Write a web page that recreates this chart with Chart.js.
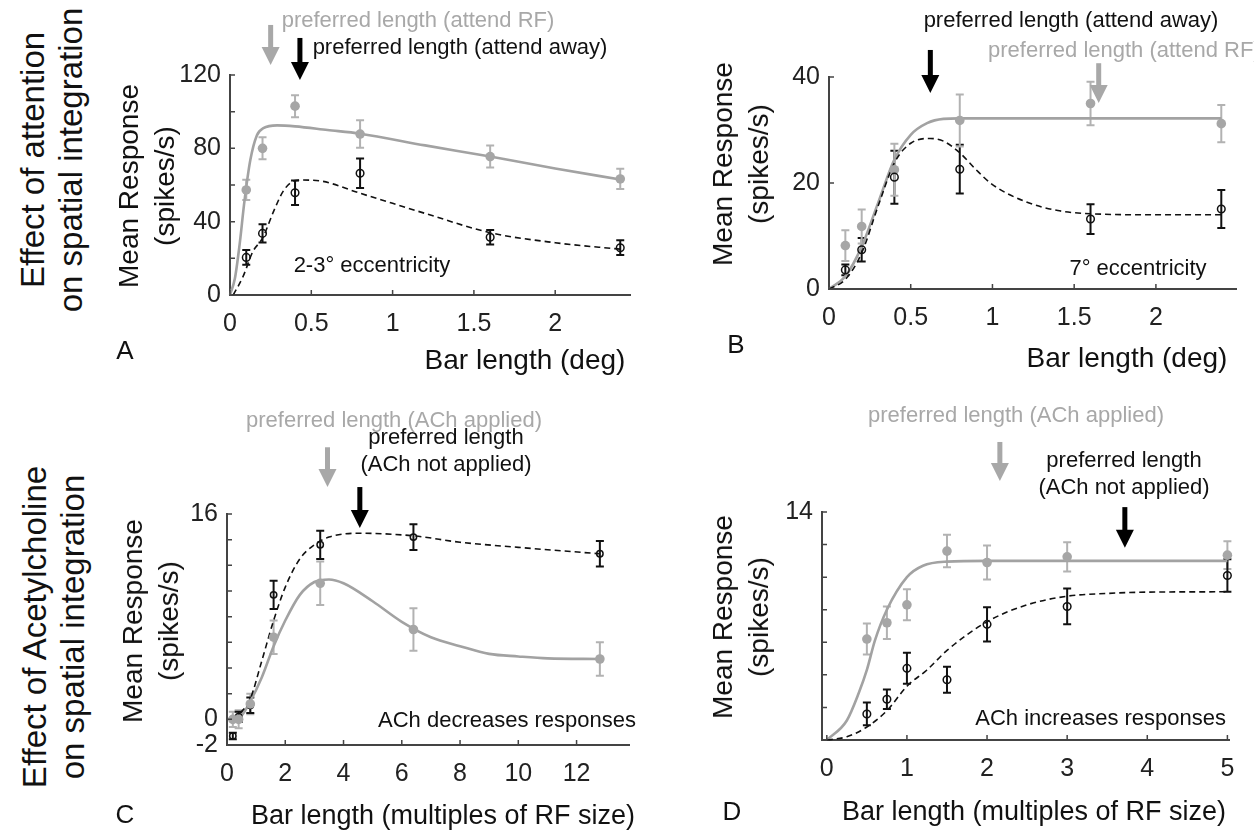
<!DOCTYPE html>
<html>
<head>
<meta charset="utf-8">
<script src="https://cdn.jsdelivr.net/npm/chart.js@4.4.1/dist/chart.umd.min.js"></script>
<style>
  body { margin: 0; background: #fff; }
  #fig { position: relative; width: 1254px; height: 834px; overflow: hidden; background: #fff;
         font-family: "Liberation Sans", Arial, Helvetica, sans-serif; color: #111; }
  #fig canvas { position: absolute; }
  .t { position: absolute; white-space: nowrap; transform: translate(-50%, -50%); text-align: center; z-index: 2; }
  .l { position: absolute; white-space: nowrap; transform: translateY(-50%); z-index: 2; }
  .r { position: absolute; white-space: nowrap; transform: translateY(-50%); text-align: right; z-index: 2; }
  .rot { position: absolute; white-space: nowrap; text-align: center; z-index: 2;
         transform: translate(-50%, -50%) rotate(-90deg); }
  .grey { color: #a8a8a8; }
  .ann { font-size: 22px; }
  .ttl { font-size: 33px; line-height: 38px; }
  .ax { font-size: 28px; line-height: 36px; }
  .let { font-size: 26px; }
</style>
</head>
<body>
<div id="fig">
  <canvas id="cA"></canvas>
  <canvas id="cB"></canvas>
  <canvas id="cC"></canvas>
  <canvas id="cD"></canvas>

  <div class="rot ttl" style="left:52px;top:160px">Effect of attention<br>on spatial integration</div>
  <div class="rot ttl" style="left:54px;top:627px">Effect of Acetylcholine<br>on spatial integration</div>

  <div class="rot ax" style="left:147px;top:186px">Mean Response<br>(spikes/s)</div>
  <div class="rot ax" style="left:741px;top:164px">Mean Response<br>(spikes/s)</div>
  <div class="rot ax" style="left:151px;top:621px">Mean Response<br>(spikes/s)</div>
  <div class="rot ax" style="left:741px;top:617px">Mean Response<br>(spikes/s)</div>

  <div class="t ax" style="left:525px;top:360px">Bar length (deg)</div>
  <div class="t ax" style="left:1127px;top:358px">Bar length (deg)</div>
  <div class="t ax" style="left:443px;top:815px;font-size:27px">Bar length (multiples of RF size)</div>
  <div class="t ax" style="left:1034px;top:811px;font-size:27px">Bar length (multiples of RF size)</div>

  <div class="t let" style="left:125px;top:350px">A</div>
  <div class="t let" style="left:736px;top:344px">B</div>
  <div class="t let" style="left:125px;top:814px">C</div>
  <div class="t let" style="left:732px;top:811px">D</div>

  <div class="t ann grey" style="left:418px;top:20px">preferred length (attend RF)</div>
  <div class="t ann" style="left:460px;top:47px">preferred length (attend away)</div>
  <div class="t ann" style="left:372px;top:265px">2-3° eccentricity</div>

  <div class="t ann" style="left:1071px;top:20px">preferred length (attend away)</div>
  <div class="l ann grey" style="left:988px;top:50px">preferred length (attend RF)</div>
  <div class="t ann" style="left:1138px;top:268px">7° eccentricity</div>

  <div class="t ann grey" style="left:394px;top:420px">preferred length (ACh applied)</div>
  <div class="t ann" style="left:446px;top:450px;line-height:27px">preferred length<br>(ACh not applied)</div>
  <div class="l ann" style="left:378px;top:720px">ACh decreases responses</div>

  <div class="t ann grey" style="left:1016px;top:415px">preferred length (ACh applied)</div>
  <div class="t ann" style="left:1124px;top:473px;line-height:27px">preferred length<br>(ACh not applied)</div>
  <div class="r ann" style="right:28px;top:718px">ACh increases responses</div>
</div>

<script>
// ---- Panel A: attention, 2-3 deg eccentricity ----
const aLen = [0.1, 0.2, 0.4, 0.8, 1.6, 2.4];
const aAttendRF = [57.3, 80, 103, 87.8, 75.5, 63.3];
const aAttendRFErr = [5.5, 6, 6, 7.5, 6, 5.5];
const aAttendAway = [20.5, 33.6, 55.8, 66.4, 31.5, 25.8];
const aAttendAwayErr = [4, 5, 6.7, 8, 4, 4];
const aFitRFLen = [0, 0.03, 0.057, 0.09, 0.125, 0.165, 0.205, 0.29, 0.4, 0.6, 0.8, 1.2, 1.6, 2.0, 2.4];
const aFitRF = [0, 9, 26, 52, 73.6, 87, 91, 92.5, 92, 90, 88, 81.6, 75.5, 69, 63];
const aFitAwayLen = [0.02, 0.08, 0.14, 0.2, 0.27, 0.33, 0.4, 0.45, 0.57, 0.8, 1.0, 1.2, 1.6, 2.0, 2.4];
const aFitAway = [0, 10, 23.6, 31, 46, 57, 62.4, 62.7, 62, 55.5, 50, 44.5, 34, 28.5, 25];
const aArrowLen = [0.25, 0.43];      // attend RF (grey), attend away (black)
const aArrowTop = [147.3, 140.2];
const aArrowTip = [125.5, 117.3];
const aYLabels = [0, 40, 80, 120];

// ---- Panel B: attention, 7 deg eccentricity ----
const bLen = [0.1, 0.2, 0.4, 0.8, 1.6, 2.4];
const bAttendRF = [8.2, 11.8, 22.5, 31.8, 35, 31.2];
const bAttendRFErr = [2.9, 3.2, 4.9, 4.9, 4.1, 3.5];
const bAttendAway = [3.6, 7.4, 21.1, 22.6, 13.2, 15.1];
const bAttendAwayErr = [1, 2.2, 5, 4.6, 2.8, 3.6];
const bFitRFLen = [0, 0.1, 0.2, 0.3, 0.4, 0.5, 0.6, 0.7, 0.8, 1.2, 1.6, 2.0, 2.4];
const bFitRF = [0, 2.4, 8, 16.2, 24.4, 29.1, 31.3, 32.1, 32.2, 32.2, 32.2, 32.2, 32.2];
const bFitAwayLen = [0, 0.1, 0.2, 0.3, 0.4, 0.5, 0.62, 0.7, 0.8, 0.9, 1.0, 1.2, 1.4, 1.6, 2.0, 2.4];
const bFitAway = [0, 1.8, 6.8, 15.6, 23.8, 27.5, 28.4, 27.9, 25.7, 22.5, 19.7, 16.5, 14.8, 14.2, 14, 14];
const bArrowLen = [1.65, 0.62];      // attend RF (grey), attend away (black)
const bArrowTop = [42.6, 45.1];
const bArrowTip = [35.1, 37];
const bYLabels = [0, 20, 40];

// ---- Panel C: ACh decreases responses ----
const cLen = [0.2, 0.4, 0.8, 1.6, 3.2, 6.4, 12.8];
const cApplied = [0, 0, 1.2, 6.4, 10.6, 7.0, 4.7];
const cAppliedErr = [0.6, 0.7, 0.8, 1.3, 1.7, 1.65, 1.3];
const cNotApplied = [-1.3, 0.2, 1.1, 9.7, 13.6, 14.2, 12.9];
const cNotAppliedErr = [0.25, 0.4, 0.6, 1.1, 1.1, 1.0, 1.0];
const cFitAppliedLen = [0.2, 0.5, 0.8, 1.2, 1.6, 2.0, 2.5, 3.0, 3.5, 4.0, 5, 6, 7, 8, 9, 10, 11, 12.8];
const cFitApplied = [0, 0.3, 1.4, 3.3, 5.7, 7.7, 9.7, 10.7, 10.9, 10.6, 9.2, 7.6, 6.4, 5.7, 5.1, 4.9, 4.75, 4.7];
const cFitNotLen = [0.2, 0.5, 0.8, 1.2, 1.6, 2.0, 2.5, 3.0, 3.5, 4.5, 6.4, 8, 10, 12.8];
const cFitNot = [0, 0.6, 1.6, 4.6, 7.7, 10.3, 12.5, 13.6, 14.2, 14.5, 14.3, 13.8, 13.4, 12.9];
const cArrowLen = [3.45, 4.56];      // ACh applied (grey), not applied (black)
const cArrowTop = [21.2, 18.1];
const cArrowTip = [18.1, 14.9];
const cYLabels = [-2, 0, 16];

// ---- Panel D: ACh increases responses ----
const dLen = [0.5, 0.75, 1, 1.5, 2, 3, 5];
const dApplied = [6.2, 7.2, 8.3, 11.6, 10.9, 11.25, 11.35];
const dAppliedErr = [0.95, 1.0, 0.95, 1.0, 1.05, 0.9, 0.85];
const dNotApplied = [1.6, 2.5, 4.4, 3.7, 7.1, 8.2, 10.1];
const dNotAppliedErr = [0.7, 0.6, 0.95, 0.8, 1.05, 1.1, 1.0];
const dFitAppliedLen = [0, 0.25, 0.4, 0.5, 0.6, 0.75, 1.0, 1.2, 1.5, 2, 3, 5];
const dFitApplied = [0, 1.2, 2.9, 4.3, 6.1, 8.0, 10.0, 10.7, 10.95, 11, 11, 11];
const dFitNotLen = [0, 0.25, 0.5, 0.75, 1.0, 1.25, 1.5, 2.0, 2.5, 3.0, 3.5, 4, 5];
const dFitNot = [0, 0.2, 0.8, 1.8, 3.3, 4.3, 5.5, 7.26, 8.3, 8.83, 9.0, 9.08, 9.1];
const dArrowLen = [2.16, 3.72];      // ACh applied (grey), not applied (black)
const dArrowTop = [18.3, 14.3];
const dArrowTip = [15.9, 11.8];
const dYLabels = [14];

var FONT = '"Liberation Sans", Arial, Helvetica, sans-serif';
var GREY = "#a6a6a6";
var GREY_LINE = "#a2a2a2";
var BLACK = "#111111";
var AXIS = "#444444";
var arrowsById = {};

function pts(xs, ys) {
  return xs.map(function(x, i) { return { x: x, y: ys[i] }; });
}

function greyPoints(xs, ys, errs) {
  return { data: pts(xs, ys), errs: errs, errColor: "#b2b2b2", showLine: false,
    pointRadius: 4.8, pointBackgroundColor: GREY, pointBorderWidth: 0, clip: 12 };
}
function blackPoints(xs, ys, errs, r) {
  return { data: pts(xs, ys), errs: errs, errColor: BLACK, showLine: false,
    pointRadius: r || 3.8, pointBackgroundColor: "rgba(0,0,0,0)", pointBorderColor: BLACK,
    pointBorderWidth: 1.5, clip: 12 };
}
function greyFit(xs, ys) {
  return { data: pts(xs, ys), showLine: true, borderColor: GREY_LINE, borderWidth: 2.6,
    pointRadius: 0, cubicInterpolationMode: "monotone", clip: 6 };
}
function blackFit(xs, ys) {
  return { data: pts(xs, ys), showLine: true, borderColor: BLACK, borderWidth: 1.6,
    borderDash: [6, 4], pointRadius: 0, cubicInterpolationMode: "monotone", clip: 6 };
}

var errorBars = {
  id: "errorBars",
  beforeDatasetsDraw: function(chart) {
    var ctx = chart.ctx, ys = chart.scales.y;
    chart.data.datasets.forEach(function(ds, i) {
      if (!ds.errs) return;
      var meta = chart.getDatasetMeta(i);
      ctx.save();
      ctx.strokeStyle = ds.errColor;
      ctx.lineWidth = 2;
      ctx.beginPath();
      meta.data.forEach(function(pt, j) {
        var v = ds.data[j].y, e = ds.errs[j];
        var y1 = ys.getPixelForValue(v - e), y2 = ys.getPixelForValue(v + e);
        ctx.moveTo(pt.x, y1); ctx.lineTo(pt.x, y2);
        ctx.moveTo(pt.x - 4, y1); ctx.lineTo(pt.x + 4, y1);
        ctx.moveTo(pt.x - 4, y2); ctx.lineTo(pt.x + 4, y2);
      });
      ctx.stroke();
      ctx.restore();
    });
  }
};

var inwardTicks = {
  id: "inwardTicks",
  afterDraw: function(chart) {
    var ctx = chart.ctx, a = chart.chartArea, x = chart.scales.x, y = chart.scales.y;
    ctx.save();
    ctx.strokeStyle = AXIS;
    ctx.lineWidth = 1.5;
    ctx.beginPath();
    x.ticks.forEach(function(t) {
      var px = x.getPixelForValue(t.value);
      ctx.moveTo(px, a.bottom); ctx.lineTo(px, a.bottom - 5);
    });
    y.ticks.forEach(function(t) {
      var py = y.getPixelForValue(t.value);
      ctx.moveTo(a.left, py); ctx.lineTo(a.left + 5, py);
    });
    ctx.stroke();
    ctx.restore();
  }
};

var arrowMarks = {
  id: "arrowMarks",
  afterDraw: function(chart) {
    var list = arrowsById[chart.canvas.id] || [];
    var ctx = chart.ctx, xs = chart.scales.x, ys = chart.scales.y;
    list.forEach(function(ar) {
      var px = xs.getPixelForValue(ar.x);
      var top = ys.getPixelForValue(ar.top), tip = ys.getPixelForValue(ar.tip);
      var headL = 18, headW = 18, shaftW = 5;
      ctx.save();
      ctx.fillStyle = ar.color;
      ctx.fillRect(px - shaftW / 2, top, shaftW, tip - headL - top + 1);
      ctx.beginPath();
      ctx.moveTo(px - headW / 2, tip - headL);
      ctx.lineTo(px + headW / 2, tip - headL);
      ctx.lineTo(px, tip);
      ctx.closePath();
      ctx.fill();
      ctx.restore();
    });
  }
};

function arrows(lens, tops, tips) {
  var colors = ["#a8a8a8", "#000000"];
  return lens.map(function(x, i) { return { x: x, top: tops[i], tip: tips[i], color: colors[i] }; });
}

function makePanel(id, box, area, xOpt, yOpt, datasets, arrowList) {
  var cv = document.getElementById(id);
  cv.width = box.w; cv.height = box.h;
  cv.style.left = box.l + "px"; cv.style.top = box.t + "px";
  arrowsById[id] = arrowList;
  var tickFont = { family: FONT, size: 25 };
  return new Chart(cv, {
    type: "scatter",
    data: { datasets: datasets },
    options: {
      responsive: false,
      animation: false,
      events: [],
      layout: { padding: { left: 0, top: area.t - box.t, right: box.l + box.w - area.r, bottom: 0 } },
      plugins: { legend: { display: false }, tooltip: { enabled: false } },
      scales: {
        x: {
          type: "linear", min: xOpt.min, max: xOpt.max,
          grid: { display: false, drawTicks: false },
          border: { display: true, color: AXIS, width: 2 },
          ticks: { stepSize: xOpt.step, includeBounds: false, autoSkip: false, maxRotation: 0,
                   padding: 14, color: "#222", font: tickFont,
                   callback: function(v) { return String(Math.round(v * 100) / 100); } },
          afterFit: function(s) { s.height = box.t + box.h - area.b; }
        },
        y: {
          type: "linear", min: yOpt.min, max: yOpt.max,
          grid: { display: false, drawTicks: false },
          border: { display: true, color: AXIS, width: 2 },
          ticks: { stepSize: yOpt.step, includeBounds: false, autoSkip: false, padding: 9,
                   color: "#222", font: tickFont,
                   callback: function(v) { return yOpt.labels.indexOf(v) >= 0 ? String(v) : ""; } },
          afterFit: function(s) { s.width = area.l - box.l; }
        }
      }
    },
    plugins: [errorBars, inwardTicks, arrowMarks]
  });
}

makePanel("cA", { l: 150, t: 0, w: 500, h: 350 }, { l: 230, t: 75, r: 630, b: 295 },
  { min: 0, max: 2.46, step: 0.5 }, { min: 0, max: 120, step: 20, labels: aYLabels },
  [ greyPoints(aLen, aAttendRF, aAttendRFErr), blackPoints(aLen, aAttendAway, aAttendAwayErr),
    blackFit(aFitAwayLen, aFitAway), greyFit(aFitRFLen, aFitRF) ],
  arrows(aArrowLen, aArrowTop, aArrowTip));

makePanel("cB", { l: 750, t: 0, w: 504, h: 350 }, { l: 829, t: 77, r: 1236, b: 289 },
  { min: 0, max: 2.49, step: 0.5 }, { min: 0, max: 40, step: 20, labels: bYLabels },
  [ blackPoints(bLen, bAttendAway, bAttendAwayErr), greyPoints(bLen, bAttendRF, bAttendRFErr),
    blackFit(bFitAwayLen, bFitAway), greyFit(bFitRFLen, bFitRF) ],
  arrows(bArrowLen, bArrowTop, bArrowTip));

makePanel("cC", { l: 150, t: 400, w: 500, h: 400 }, { l: 227, t: 514, r: 629, b: 745 },
  { min: 0, max: 13.8, step: 2 }, { min: -2, max: 16, step: 2, labels: cYLabels },
  [ greyPoints(cLen, cApplied, cAppliedErr), blackPoints(cLen, cNotApplied, cNotAppliedErr, 3.2),
    blackFit(cFitNotLen, cFitNot), greyFit(cFitAppliedLen, cFitApplied) ],
  arrows(cArrowLen, cArrowTop, cArrowTip));

makePanel("cD", { l: 750, t: 400, w: 504, h: 400 }, { l: 822, t: 512, r: 1229, b: 740 },
  { min: -0.06, max: 5.02, step: 1 }, { min: 0, max: 14, step: 2, labels: dYLabels },
  [ greyPoints(dLen, dApplied, dAppliedErr), blackPoints(dLen, dNotApplied, dNotAppliedErr),
    blackFit(dFitNotLen, dFitNot), greyFit(dFitAppliedLen, dFitApplied) ],
  arrows(dArrowLen, dArrowTop, dArrowTip));
</script>
</body>
</html>
